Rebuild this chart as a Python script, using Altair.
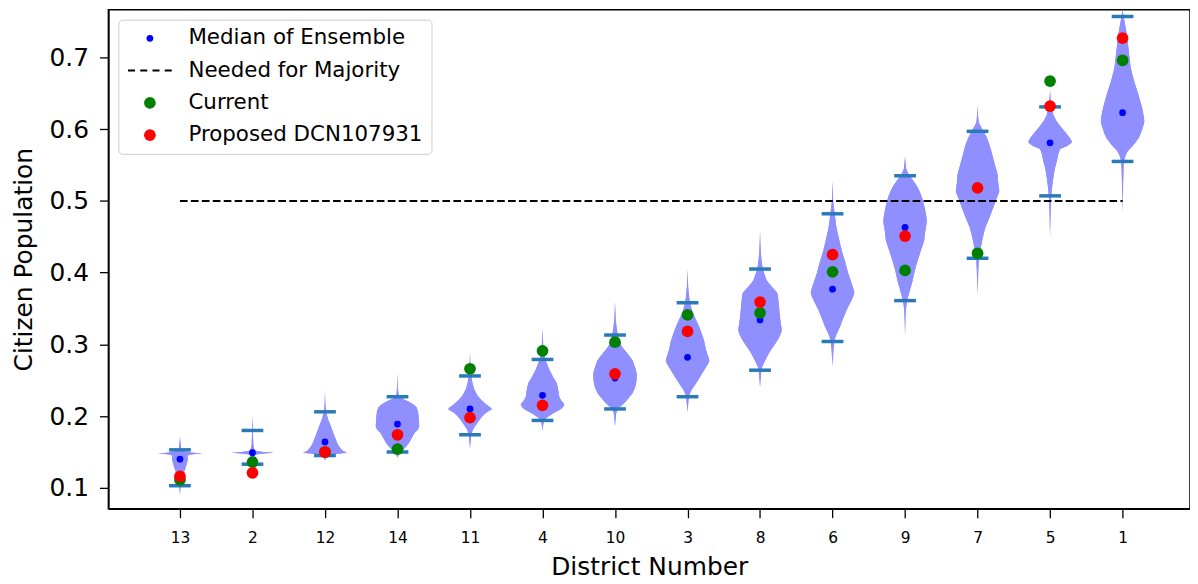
import altair as alt
import pandas as pd

# ---------------- data ----------------
districts = ["13", "2", "12", "14", "11", "4", "10", "3", "8", "6", "9", "7", "5", "1"]
positions = list(range(1, 15))

median = [0.140, 0.149, 0.164, 0.189, 0.210, 0.229, 0.253, 0.282, 0.334, 0.377, 0.463, 0.516, 0.581, 0.623]
current = [0.111, 0.136, 0.150, 0.154, 0.266, 0.291, 0.303, 0.341, 0.344, 0.401, 0.403, 0.427, 0.667, 0.696]
proposed = [0.116, 0.121, 0.150, 0.174, 0.198, 0.215, 0.259, 0.318, 0.359, 0.425, 0.451, 0.518, 0.632, 0.727]
cap_max = [0.153, 0.180, 0.206, 0.227, 0.256, 0.279, 0.313, 0.358, 0.405, 0.482, 0.535, 0.597, 0.631, 0.757]
cap_min = [0.103, 0.133, 0.145, 0.150, 0.174, 0.194, 0.210, 0.227, 0.264, 0.304, 0.361, 0.420, 0.507, 0.555]
majority_level = 0.5

# violin outlines: (value, relative half-width)
v13 = [(0.090, 0), (0.105, 0.04), (0.115, 0.12), (0.125, 0.22), (0.132, 0.30), (0.140, 0.36),
       (0.145, 0.35), (0.147, 0.6), (0.148, 1.0), (0.149, 0.6), (0.152, 0.08), (0.160, 0.03), (0.172, 0)]
v2 = [(0.115, 0), (0.130, 0.03), (0.140, 0.06), (0.146, 0.12), (0.148, 0.5), (0.149, 0.97),
      (0.150, 0.5), (0.152, 0.1), (0.160, 0.04), (0.180, 0.02), (0.200, 0)]
v12 = [(0.138, 0), (0.144, 0.08), (0.147, 0.4), (0.149, 1.0), (0.151, 0.85), (0.155, 0.72),
       (0.160, 0.60), (0.168, 0.49), (0.175, 0.40), (0.186, 0.27), (0.195, 0.15), (0.205, 0.06),
       (0.215, 0.02), (0.235, 0)]
v14 = [(0.142, 0), (0.148, 0.08), (0.152, 0.22), (0.157, 0.38), (0.163, 0.53), (0.170, 0.66),
       (0.177, 0.8), (0.180, 0.9), (0.186, 1.0), (0.195, 0.98), (0.205, 0.95), (0.212, 0.88),
       (0.216, 0.75), (0.221, 0.46), (0.224, 0.25), (0.228, 0.06), (0.240, 0.02), (0.260, 0)]
v11 = [(0.155, 0), (0.172, 0.05), (0.181, 0.13), (0.188, 0.28), (0.195, 0.44), (0.200, 0.58),
       (0.205, 0.75), (0.210, 1.0), (0.215, 0.8), (0.221, 0.57), (0.228, 0.36), (0.237, 0.2),
       (0.245, 0.12), (0.255, 0.06), (0.270, 0.02), (0.290, 0)]
v4 = [(0.180, 0), (0.192, 0.06), (0.198, 0.2), (0.204, 0.5), (0.210, 0.85), (0.216, 1.0),
      (0.222, 0.85), (0.228, 0.76), (0.237, 0.72), (0.246, 0.65), (0.255, 0.48), (0.265, 0.31),
      (0.275, 0.18), (0.285, 0.08), (0.300, 0.03), (0.322, 0)]
v10 = [(0.186, 0), (0.205, 0.06), (0.212, 0.2), (0.218, 0.42), (0.225, 0.62), (0.232, 0.8),
       (0.240, 0.92), (0.248, 0.98), (0.258, 1.0), (0.268, 0.92), (0.278, 0.8), (0.288, 0.55),
       (0.297, 0.31), (0.305, 0.2), (0.318, 0.1), (0.335, 0.03), (0.360, 0)]
v3 = [(0.205, 0), (0.228, 0.07), (0.237, 0.2), (0.245, 0.38), (0.255, 0.58), (0.262, 0.72),
      (0.268, 0.85), (0.277, 1.0), (0.283, 0.95), (0.292, 0.85), (0.303, 0.78), (0.315, 0.65),
      (0.327, 0.5), (0.338, 0.33), (0.348, 0.2), (0.360, 0.1), (0.380, 0.03), (0.405, 0)]
v8 = [(0.240, 0), (0.266, 0.07), (0.274, 0.18), (0.283, 0.33), (0.292, 0.5), (0.301, 0.7),
      (0.310, 0.88), (0.320, 1.0), (0.330, 0.95), (0.343, 0.9), (0.357, 0.86), (0.371, 0.8),
      (0.380, 0.55), (0.389, 0.31), (0.398, 0.2), (0.410, 0.1), (0.430, 0.03), (0.458, 0)]
v6 = [(0.270, 0), (0.305, 0.08), (0.315, 0.2), (0.325, 0.35), (0.337, 0.5), (0.348, 0.65),
      (0.360, 0.85), (0.372, 1.0), (0.385, 0.88), (0.398, 0.73), (0.415, 0.58), (0.431, 0.42),
      (0.447, 0.3), (0.463, 0.18), (0.470, 0.15), (0.482, 0.1), (0.500, 0.03), (0.528, 0)]
v9 = [(0.312, 0), (0.345, 0.03), (0.362, 0.1), (0.375, 0.22), (0.389, 0.35), (0.403, 0.45),
      (0.417, 0.58), (0.430, 0.72), (0.445, 0.88), (0.458, 0.93), (0.472, 1.0), (0.483, 0.95),
      (0.495, 0.87), (0.507, 0.75), (0.519, 0.58), (0.528, 0.38), (0.535, 0.2), (0.545, 0.05), (0.562, 0)]
v7 = [(0.370, 0), (0.420, 0.06), (0.435, 0.15), (0.450, 0.25), (0.463, 0.36), (0.477, 0.55),
      (0.491, 0.73), (0.503, 0.87), (0.514, 1.0), (0.525, 0.95), (0.537, 0.92), (0.550, 0.8),
      (0.565, 0.67), (0.575, 0.58), (0.588, 0.43), (0.598, 0.25), (0.610, 0.05), (0.632, 0)]
v5 = [(0.450, 0), (0.500, 0.04), (0.515, 0.08), (0.532, 0.15), (0.545, 0.22), (0.555, 0.31),
      (0.565, 0.38), (0.572, 0.46), (0.577, 0.8), (0.582, 1.0), (0.588, 0.9), (0.595, 0.72),
      (0.602, 0.53), (0.611, 0.3), (0.620, 0.15), (0.630, 0.08), (0.640, 0.03), (0.655, 0)]
v1 = [(0.485, 0), (0.550, 0.05), (0.560, 0.1), (0.569, 0.23), (0.578, 0.5), (0.588, 0.75),
      (0.600, 0.9), (0.611, 1.0), (0.625, 0.93), (0.635, 0.85), (0.648, 0.73), (0.665, 0.55),
      (0.685, 0.38), (0.710, 0.28), (0.731, 0.2), (0.745, 0.12), (0.757, 0.05), (0.766, 0)]
profiles = [v13, v2, v12, v14, v11, v4, v10, v3, v8, v6, v9, v7, v5, v1]

series_names = ["Median of Ensemble", "Needed for Majority", "Current", "Proposed DCN107931"]

# ---------------- tables ----------------
violin_rows = []
for d, p, prof in zip(districts, positions, profiles):
    for val, w in prof:
        violin_rows.append({"district": d, "pos": p, "value": val, "w": w})
violin_df = pd.DataFrame(violin_rows)

cap_rows = []
for d, p, hi, lo in zip(districts, positions, cap_max, cap_min):
    cap_rows.append({"district": d, "pos": p, "value": hi})
    cap_rows.append({"district": d, "pos": p, "value": lo})
cap_df = pd.DataFrame(cap_rows)

point_rows = []
for k, (name, vals) in enumerate([(series_names[0], median), (series_names[2], current), (series_names[3], proposed)]):
    for d, p, v in zip(districts, positions, vals):
        point_rows.append({"district": d, "pos": p, "value": v, "series": name, "ord": k})
point_df = pd.DataFrame(point_rows)

rule_df = pd.DataFrame({"x": [positions[0]], "x2": [positions[-1]], "value": [majority_level]})

# ---------------- scales ----------------
x_scale = alt.Scale(domain=[0.013, 14.93], nice=False, zero=False)
y_scale = alt.Scale(domain=[0.0709, 0.7665], nice=False, zero=False)

label_expr = "[" + ",".join("'" + d + "'" for d in districts) + "][datum.value - 1]"

x_axis = alt.Axis(values=positions, labelExpr=label_expr, title="District Number", grid=False,
                  labelFontSize=15.5, titleFontSize=25, tickSize=9, labelPadding=13, titlePadding=9,
                  titleFontWeight="normal", labelColor="black", titleColor="black")
y_axis = alt.Axis(values=[0.1, 0.2, 0.3, 0.4, 0.5, 0.6, 0.7], format=".1f", title="Citizen Population",
                  grid=False, labelFontSize=25, titleFontSize=25, tickSize=9, labelPadding=11,
                  titlePadding=13, titleFontWeight="normal", labelColor="black", titleColor="black")

# dashed line sample for the legend, drawn as four thin filled dashes
dash_path = ("M-3.72,-0.17H-2.53V0.17H-3.72Z M-1.64,-0.17H-0.45V0.17H-1.64Z "
             "M0.44,-0.17H1.63V0.17H0.44Z M2.52,-0.17H3.71V0.17H2.52Z")

legend = alt.Legend(title=None, orient="top-left", offset=10, labelFontSize=21.5, labelLimit=0,
                    fillColor="white", strokeColor="#cccccc", cornerRadius=4, padding=8,
                    rowPadding=9.5, symbolOffset=13, labelOffset=28, labelColor="black",
                    symbolStrokeWidth=0, symbolOpacity=1)

color_scale = alt.Scale(domain=series_names, range=["blue", "black", "green", "red"])
shape_scale = alt.Scale(domain=series_names, range=["circle", dash_path, "circle", "circle"])
size_scale = alt.Scale(type="ordinal", domain=series_names, range=[46, 140, 139, 139])

# ---------------- layers ----------------
violins = alt.Chart(violin_df).transform_calculate(
    xl="datum.pos - datum.w * 0.3", xr="datum.pos + datum.w * 0.3"
).mark_area(orient="horizontal", fill="#8f8fff", opacity=1, clip=True).encode(
    y=alt.Y("value:Q", scale=y_scale, axis=y_axis, sort=None),
    x=alt.X("xl:Q", scale=x_scale, axis=x_axis, stack=None),
    x2="xr:Q",
    detail="district:N",
)

violins_smooth = alt.Chart(violin_df).transform_calculate(
    xl="datum.pos - datum.w * 0.3", xr="datum.pos + datum.w * 0.3"
).mark_area(orient="horizontal", interpolate="monotone", fill="#8f8fff", opacity=1, clip=True).encode(
    y=alt.Y("value:Q", scale=y_scale),
    x=alt.X("xl:Q", scale=x_scale, stack=None),
    x2="xr:Q",
    detail="district:N",
)

caps = alt.Chart(cap_df).transform_calculate(
    xl="datum.pos - 0.15", xr="datum.pos + 0.15"
).mark_rule(color="#2a7ab9", strokeWidth=3.5).encode(
    x=alt.X("xl:Q", scale=x_scale),
    x2="xr:Q",
    y=alt.Y("value:Q", scale=y_scale),
)

majority_rule = alt.Chart(rule_df).mark_rule(color="black", strokeWidth=2, strokeDash=[7.7, 3.3]).encode(
    x=alt.X("x:Q", scale=x_scale),
    x2="x2:Q",
    y=alt.Y("value:Q", scale=y_scale),
)

points = alt.Chart(point_df).mark_point(filled=True, opacity=1, strokeWidth=0).encode(
    x=alt.X("pos:Q", scale=x_scale),
    y=alt.Y("value:Q", scale=y_scale),
    color=alt.Color("series:N", scale=color_scale, legend=legend),
    shape=alt.Shape("series:N", scale=shape_scale, legend=legend),
    size=alt.Size("series:N", scale=size_scale, legend=legend),
    order=alt.Order("ord:Q"),
)

chart = alt.layer(violins, violins_smooth, caps, majority_rule, points).properties(
    width=1088, height=502, padding={"left": 3, "top": 0, "right": 0, "bottom": 0}
).configure(font="DejaVu Sans").configure_view(
    stroke="black", strokeWidth=1.5
).configure_axis(
    domainColor="black", domainWidth=1.5, tickColor="black", tickWidth=1.3
)

chart.save("out.html", embed_options={"renderer": "svg", "actions": False})
